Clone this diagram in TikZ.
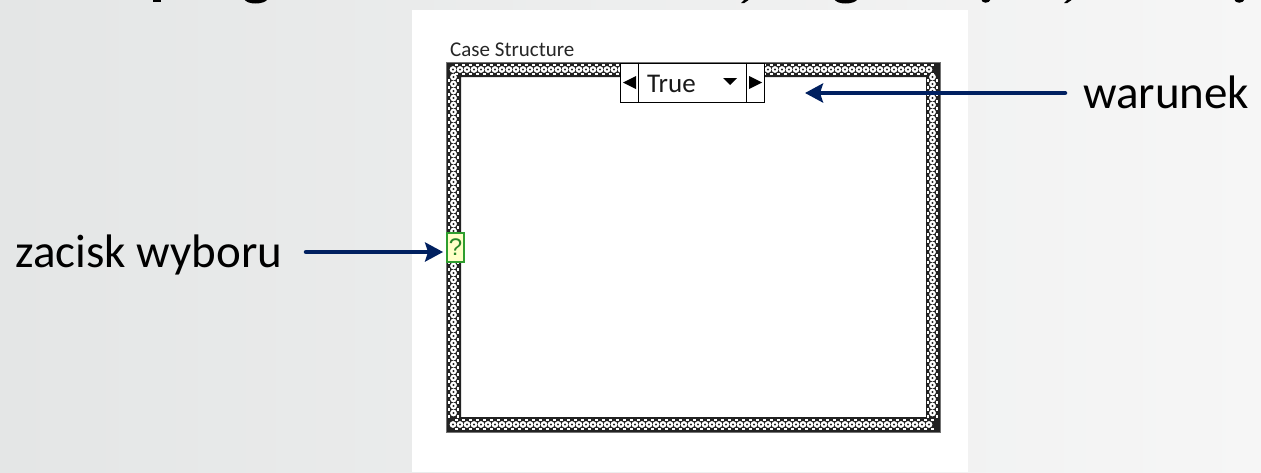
\documentclass[tikz,border=0pt]{standalone}
\usepackage{fontspec}
\usetikzlibrary{arrows.meta}
\newfontfamily\slidefont{Carlito}
\newfontfamily\uifont{Liberation Sans}
\definecolor{navy}{HTML}{002060}
\definecolor{bgleft}{HTML}{E4E6E6}
\definecolor{bgright}{HTML}{F6F6F6}
\definecolor{band}{HTML}{222222}
\definecolor{termgreen}{HTML}{2E9E2E}
\definecolor{termfill}{HTML}{FFFFC8}
\tikzset{
  callout/.style={font=\slidefont\fontsize{47}{56}\selectfont, text=black, inner sep=0pt, anchor=base west},
  pointer/.style={draw=navy, line width=4.5pt, line cap=round,
    -{Stealth[length=18pt,width=19pt,inset=3pt]}},
  selbox/.style={draw=black, line width=1pt, fill=white, minimum width=144pt,
    minimum height=39pt, inner sep=0pt},
  term/.style={draw=termgreen, line width=1.8pt, fill=termfill, minimum width=17pt,
    minimum height=29pt, inner sep=0pt, text=termgreen!85!black,
    font=\uifont\fontsize{24}{26}\selectfont},
  ring/.style={fill=white},
  hole/.style={fill=band},
}
\begin{document}
\begin{tikzpicture}[x=1pt,y=-1pt]
\useasboundingbox (0,0) rectangle (1261,472);
% slide background and white diagram panel
\shade[left color=bgleft, right color=bgright] (0,0) rectangle (1261,472);
\fill[white] (412,10) rectangle (968,472);

% descenders of the heading line above
\begin{scope}
  \clip (0,0) rectangle (1261,472);
  \fill[black] (153,-1) rectangle (161,1.8);
  \fill[black] (244,-1) .. controls (247,5) and (264,5) .. (268,-1) -- cycle;
  \fill[black] (745,-1) -- (750,-1) -- (744,3.2) -- (741,3.2) -- cycle;
  \fill[black] (834,-1) .. controls (837,5) and (854,5) .. (858,-1) -- cycle;
  \fill[black] (981,-1) .. controls (982,4) and (989,4) .. (991,-1) -- cycle;
  \fill[black] (1068,-1) -- (1073,-1) -- (1067,3.2) -- (1064,3.2) -- cycle;
  \fill[black] (1234,-1) .. controls (1235,4) and (1243,4) .. (1245,-1) -- cycle;
\end{scope}

% case structure frame: patterned border band
\fill[band, even odd rule] (446,62) rectangle (940,432) (461,77) rectangle (926,417);
\foreach \x in {453,460,...,933} {
  \fill[ring] (\x,69.5) circle (3.4pt);  \fill[hole] (\x,69.5) circle (1.2pt);
  \fill[ring] (\x,424.5) circle (3.4pt); \fill[hole] (\x,424.5) circle (1.2pt);
  \fill[ring] (\x+2,63.6) rectangle (\x+5,66.2);
  \fill[ring] (\x+2,427.8) rectangle (\x+5,430.4);
  \fill[ring] (\x+2.3,72.6) rectangle (\x+4.7,75.4);
  \fill[ring] (\x+2.3,418.6) rectangle (\x+4.7,421.4);
}
\foreach \y in {77,84,...,417} {
  \fill[ring] (453.5,\y) circle (3.4pt); \fill[hole] (453.5,\y) circle (1.2pt);
  \fill[ring] (932.5,\y) circle (3.4pt); \fill[hole] (932.5,\y) circle (1.2pt);
  \fill[ring] (447.6,\y+2) rectangle (450.2,\y+5);
  \fill[ring] (935.8,\y+2) rectangle (938.4,\y+5);
  \fill[ring] (456.6,\y+2.3) rectangle (459.4,\y+4.7);
  \fill[ring] (926.6,\y+2.3) rectangle (929.4,\y+4.7);
}
\draw[black!55, line width=1pt] (446,62) rectangle (940,432);

% structure title
\node[anchor=base west, inner sep=0pt, text=black!85,
      font=\slidefont\fontsize{21}{24}\selectfont] (cstitle) at (450,56) {Case Structure};

% case selector label with increment/decrement buttons
\node[selbox] (sel) at (692,82.5) {};
\draw[line width=1pt] ([xshift=19pt]sel.north west) -- ([xshift=19pt]sel.south west);
\draw[line width=1pt] ([xshift=-18pt]sel.north east) -- ([xshift=-18pt]sel.south east);
\fill[black] (623,82.5) -- (636,76) -- (636,89) -- cycle;
\fill[black] (762,82.5) -- (749,76) -- (749,89) -- cycle;
\fill[black] (723,78) -- (737,78) -- (730,85) -- cycle;
\node[anchor=base west, inner sep=0pt, text=black!90,
      font=\slidefont\fontsize{27}{30}\selectfont] (casename) at (647,92) {True};

% selector terminal
\node[term] (term) at (455.5,247.5) {?};

% callout labels and pointers
\node[callout] (zac) at (15,267) {zacisk wyboru};
\node[callout] (war) at (1083,108) {warunek};
\coordinate (ztail) at (306,252);
\coordinate (wtail) at (1065,93);
\coordinate (wtip) at (805,93);
\draw[pointer, shorten >=3pt] (ztail) -- ([yshift=-4.5pt]term.west);
\draw[pointer] (wtail) -- (wtip);
\end{tikzpicture}
\end{document}
